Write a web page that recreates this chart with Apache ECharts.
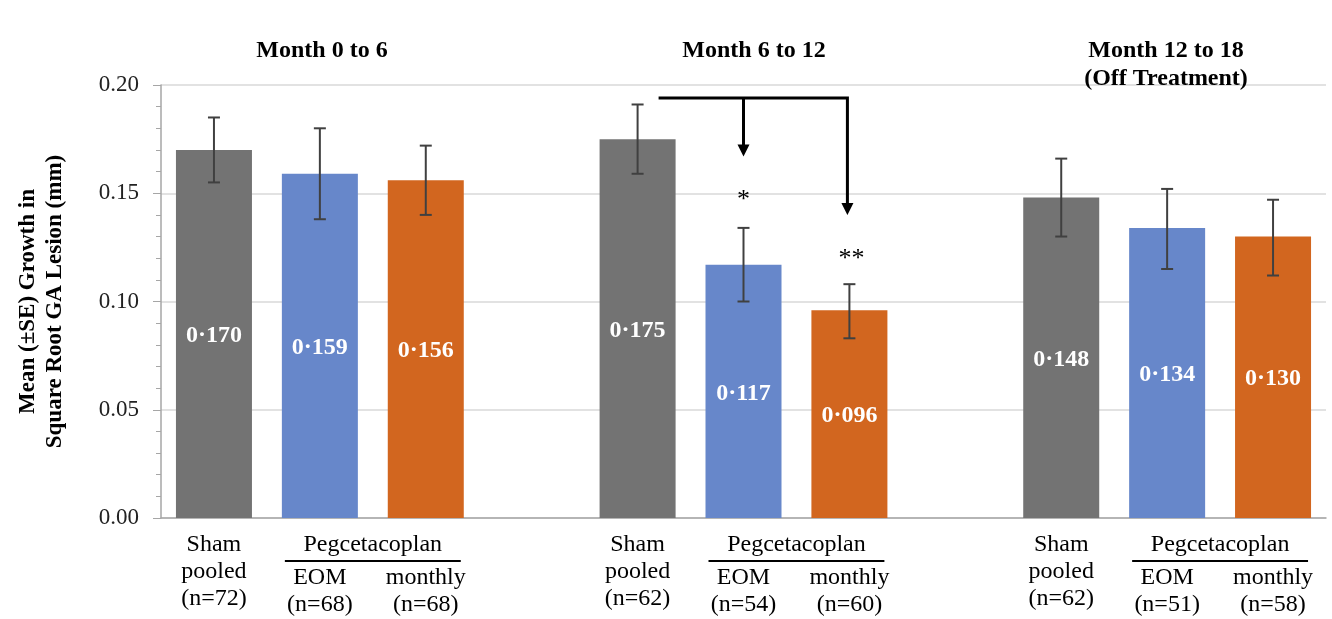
<!DOCTYPE html>
<html>
<head>
<meta charset="utf-8">
<script src="https://cdn.jsdelivr.net/npm/echarts@6/dist/echarts.min.js"></script>
<style>html,body{margin:0;padding:0;background:#fff;}#c{width:1332px;height:619px;}</style>
</head>
<body>
<div id="c"></div>
<script>
// ---------- data ----------
var categories = ['Sham', 'EOM', 'monthly', '', 'Sham', 'EOM', 'monthly', '', 'Sham', 'EOM', 'monthly'];
var catLabels = [
  ['Sham', 'pooled', '(n=72)'], ['EOM', '(n=68)'], ['monthly', '(n=68)'], [],
  ['Sham', 'pooled', '(n=62)'], ['EOM', '(n=54)'], ['monthly', '(n=60)'], [],
  ['Sham', 'pooled', '(n=62)'], ['EOM', '(n=51)'], ['monthly', '(n=58)']
];
var means = [0.170, 0.159, 0.156, null, 0.175, 0.117, 0.096, null, 0.148, 0.134, 0.130];
var seLow = [0.155, 0.138, 0.140, null, 0.159, 0.100, 0.083, null, 0.130, 0.115, 0.112];
var seHigh = [0.185, 0.180, 0.172, null, 0.191, 0.134, 0.108, null, 0.166, 0.152, 0.147];
var barColors = ['#737373', '#6787ca', '#d2661f', null, '#737373', '#6787ca', '#d2661f', null, '#737373', '#6787ca', '#d2661f'];
var groupTitles = ['Month 0 to 6', 'Month 6 to 12', 'Month 12 to 18\n(Off Treatment)'];
var groupSpans = [[1, 2], [5, 6], [9, 10]]; // Pegcetacoplan spans
var groupLabel = 'Pegcetacoplan';
// arrow: from Sham (idx 4) at level, down to EOM (5) and monthly (6) tips
var arrowFrom = 4, arrowTo = [5, 6], arrowLevel = 0.194, arrowTips = [0.167, 0.140];
var starIdx = [5, 6], starVal = [0.148, 0.121], starText = ['*', '**'];
var yTicks = [0, 0.05, 0.10, 0.15, 0.20];

var FONT = '"Liberation Serif", "Times New Roman", serif';
var FS = 24;
var chart = echarts.init(document.getElementById('c'));

var barData = means.map(function (v, i) {
  return v == null ? null : { value: v, itemStyle: { color: barColors[i] } };
});
var errData = [];
means.forEach(function (v, i) { if (v != null) errData.push([i, seLow[i], seHigh[i]]); });

var option = {
  backgroundColor: '#fff',
  animation: false,
  title: groupTitles.map(function (t, g) {
    var lefts = [317, 749, 1161];
    return {
      text: t, left: lefts[g], top: 32, textAlign: 'center',
      textStyle: { fontFamily: FONT, fontSize: FS, fontWeight: 'bold', color: '#000', lineHeight: 28 }
    };
  }),
  grid: { left: 161, right: 6, top: 85, bottom: 101, containLabel: false, outerBoundsMode: 'none' },
  xAxis: {
    type: 'category',
    data: categories,
    axisLine: { show: true, lineStyle: { color: '#a6a6a6', width: 1.5 } },
    axisTick: { show: false },
    axisLabel: {
      interval: 0,
      margin: 13,
      fontFamily: FONT, fontSize: FS, color: '#000',
      formatter: function (val, idx) {
        var l = catLabels[idx];
        if (!l || !l.length) return '';
        if (l.length === 3) return '{s|' + l[0] + '}\n{s|' + l[1] + '}\n{s|' + l[2] + '}';
        return '{g| }\n{s|' + l[0] + '}\n{s|' + l[1] + '}';
      },
      rich: {
        s: { fontFamily: FONT, fontSize: FS, color: '#000', lineHeight: 27 },
        g: { fontSize: 10, lineHeight: 33 }
      }
    }
  },
  yAxis: {
    type: 'value',
    min: 0, max: 0.2, interval: 0.05,
    name: 'Mean (±SE) Growth in\nSquare Root GA Lesion (mm)',
    nameLocation: 'middle',
    nameRotate: 90,
    nameGap: 92,
    nameTextStyle: { fontFamily: FONT, fontSize: 23, fontWeight: 'bold', color: '#000', lineHeight: 27 },
    axisLine: { show: true, lineStyle: { color: '#a6a6a6', width: 1.5 } },
    axisTick: { show: true, length: 8, lineStyle: { color: '#a6a6a6' } },
    minorTick: { show: true, splitNumber: 5, length: 5, lineStyle: { color: '#a6a6a6' } },
    splitLine: { show: true, lineStyle: { color: '#d9d9d9', width: 1.5 } },
    axisLabel: {
      margin: 22, fontFamily: FONT, fontSize: 23, color: '#222',
      formatter: function (v) { return v.toFixed(2); }
    }
  },
  series: [
    {
      type: 'bar',
      data: barData,
      barWidth: 76,
      label: {
        show: true, position: 'inside', offset: [0, 2],
        fontFamily: FONT, fontSize: FS, fontWeight: 'bold', color: '#fff',
        formatter: function (p) { return p.value.toFixed(3).replace('.', '\u00b7'); }
      },
      z: 2
    },
    {
      type: 'custom',
      data: errData,
      encode: { x: 0, y: [1, 2] },
      clip: false,
      z: 5,
      renderItem: function (params, api) {
        var lo = api.coord([api.value(0), api.value(1)]);
        var hi = api.coord([api.value(0), api.value(2)]);
        var w = 6;
        var st = { stroke: '#404040', lineWidth: 2 };
        return {
          type: 'group',
          children: [
            { type: 'line', shape: { x1: lo[0], y1: lo[1], x2: hi[0], y2: hi[1] }, style: st },
            { type: 'line', shape: { x1: lo[0] - w, y1: lo[1], x2: lo[0] + w, y2: lo[1] }, style: st },
            { type: 'line', shape: { x1: hi[0] - w, y1: hi[1], x2: hi[0] + w, y2: hi[1] }, style: st }
          ]
        };
      }
    },
    {
      type: 'custom',
      data: groupSpans,
      encode: { x: [0, 1] },
      clip: false,
      silent: true,
      renderItem: function (params, api) {
        var a = api.coord([api.value(0), 0]);
        var b = api.coord([api.value(1), 0]);
        var mid = (a[0] + b[0]) / 2;
        return {
          type: 'group',
          children: [
            { type: 'text', style: { text: groupLabel, x: mid, y: a[1] + 27, align: 'center', verticalAlign: 'middle',
                fontFamily: FONT, fontSize: FS, fill: '#000' } },
            { type: 'line', shape: { x1: a[0] - 35, y1: a[1] + 43, x2: b[0] + 35, y2: a[1] + 43 },
              style: { stroke: '#000', lineWidth: 2 } }
          ]
        };
      }
    },
    {
      type: 'custom',
      data: [[arrowFrom, arrowTo[0], arrowTo[1], arrowLevel, arrowTips[0], arrowTips[1]]],
      encode: { x: [0, 1, 2], y: [3, 4, 5] },
      clip: false,
      silent: true,
      z: 6,
      renderItem: function (params, api) {
        var s = api.coord([api.value(0), api.value(3)]);
        var e1 = api.coord([api.value(1), api.value(3)]);
        var e2 = api.coord([api.value(2), api.value(3)]);
        var t1 = api.coord([api.value(1), api.value(4)]);
        var t2 = api.coord([api.value(2), api.value(5)]);
        var st = { stroke: '#000', lineWidth: 3, fill: null };
        var hw = 6, hh = 12;
        function head(t) {
          return { type: 'polygon', shape: { points: [[t[0] - hw, t[1] - hh], [t[0] + hw, t[1] - hh], [t[0], t[1]]] },
                   style: { fill: '#000' } };
        }
        return {
          type: 'group',
          children: [
            { type: 'polyline', shape: { points: [[s[0] + 21, s[1]], [e2[0] - 2, e2[1]], [t2[0] - 2, t2[1] - hh + 1]] }, style: st },
            { type: 'line', shape: { x1: e1[0], y1: e1[1], x2: t1[0], y2: t1[1] - hh + 1 }, style: st },
            head([t1[0], t1[1]]),
            head([t2[0] - 2, t2[1]])
          ]
        };
      }
    },
    {
      type: 'custom',
      data: starIdx.map(function (x, i) { return [x, starVal[i], i]; }),
      encode: { x: 0, y: 1 },
      clip: false,
      silent: true,
      renderItem: function (params, api) {
        var p = api.coord([api.value(0), api.value(1)]);
        return { type: 'text', style: { text: starText[api.value(2)], x: p[0] + (api.value(2) === 1 ? 2 : 0), y: p[1] + 3,
          align: 'center', verticalAlign: 'middle', fontFamily: FONT, fontSize: 26, fill: '#000' } };
      }
    }
  ]
};
chart.setOption(option);
</script>
</body>
</html>
